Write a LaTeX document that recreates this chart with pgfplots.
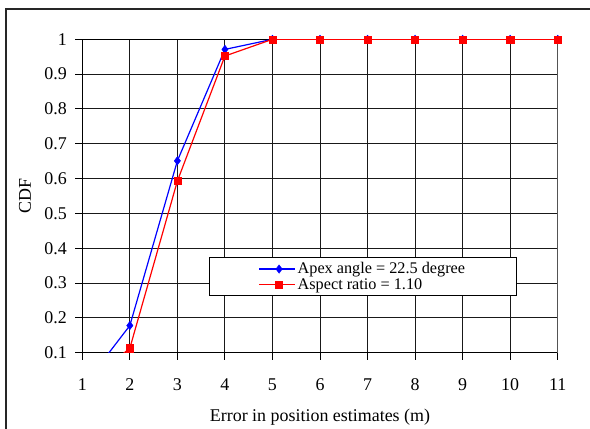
\documentclass[border=0pt]{standalone}
\usepackage{pgfplots}
\pgfplotsset{compat=1.18}
\usepackage{fontspec}
\setmainfont{Liberation Serif}
\definecolor{sblue}{RGB}{0,0,255}
\definecolor{sred}{RGB}{255,0,0}
\begin{document}
\begin{tikzpicture}
\useasboundingbox (0bp,0bp) rectangle (590bp,429bp);
\draw[line width=1.2bp, black!85] (6bp,-20bp) -- (6bp,420bp) -- (620bp,420bp);
\begin{axis}[
  at={(82.3bp,76.3bp)}, anchor=south west,
  scale only axis, width=475.4bp, height=313.4bp,
  xmin=1, xmax=11, ymin=0.1, ymax=1,
  xtick={1,2,3,4,5,6,7,8,9,10,11},
  ytick={0.1,0.2,0.3,0.4,0.5,0.6,0.7,0.8,0.9,1},
  /pgf/number format/assume math mode=true,
  tick pos=left, tick align=outside,
  major tick length=7bp,
  every tick/.style={black, line width=1bp},
  grid=major,
  major grid style={black!90, line width=1bp},
  axis line style={black, line width=1bp},
  tick label style={font=\fontsize{18}{20}\selectfont},
  xticklabel style={anchor=base, yshift=-30.3bp, inner sep=0pt},
  yticklabel style={anchor=east, xshift=-8.3bp, inner sep=0pt},
  label style={font=\fontsize{18}{21}\selectfont},
  xlabel={Error in position estimates (m)},
  ylabel={CDF},
  xlabel style={at={(axis description cs:0.5,-0.205)}, anchor=center},
  ylabel style={at={(axis description cs:-0.1205,0.5)}, anchor=center},
  legend style={at={(axis description cs:0.2665,0.3054)}, anchor=north west,
    draw=black, line width=1bp, fill=white,
    font=\fontsize{16.3}{18}\selectfont,
    inner xsep=49bp, inner ysep=4.2bp, row sep=1bp,
    nodes={inner ysep=1bp, inner xsep=2bp}},
  legend cell align=left,
  legend image code/.code={\path (0bp,0bp) -- (4bp,0bp); \draw[#1, mark indices={2}] plot coordinates {(4bp,0bp) (20bp,0bp) (36bp,0bp)};},
]
\draw[gray, line width=1.6bp] (axis cs:11,0.1) -- (axis cs:11,1);
\addplot[color=sblue, line width=1.2bp, mark=diamond*, mark size=4.2bp,
  mark options={solid, line width=0.4bp},
  mark indices={1,2,3,4,5,6,7,8,9,10}]
  coordinates {(1,0) (2,0.178) (3,0.651) (4,0.971) (5,1) (6,1) (7,1) (8,1) (9,1) (10,1) (11,1)};
\addlegendentry{Apex angle = 22.5 degree}
\addplot[color=sred, line width=1.2bp, mark=square*, mark size=3.6bp,
  mark options={solid, line width=0.4bp},
  mark indices={1,2,3,4,5,6,7,8,9,10}]
  coordinates {(1,0) (2,0.113) (3,0.593) (4,0.952) (5,1) (6,1) (7,1) (8,1) (9,1) (10,1) (11,1)};
\addlegendentry{Aspect ratio = 1.10}
\end{axis}
\end{tikzpicture}
\end{document}
